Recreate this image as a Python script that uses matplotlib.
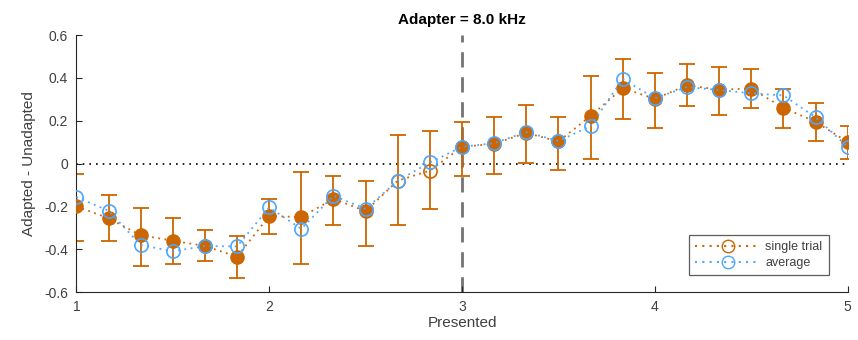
import numpy as np
import matplotlib.pyplot as plt

plt.rcParams['font.family'] = ['Liberation Sans', 'DejaVu Sans']

x = np.linspace(1, 5, 25)
single = [-0.20, -0.255, -0.335, -0.36, -0.385, -0.435, -0.245, -0.25, -0.165, -0.222,
          -0.08, -0.033, 0.078, 0.092, 0.143, 0.103, 0.222, 0.352, 0.302, 0.365,
          0.345, 0.35, 0.26, 0.195, 0.10]
average = [-0.157, -0.22, -0.38, -0.41, -0.385, -0.387, -0.205, -0.305, -0.15, -0.212,
           -0.08, 0.005, 0.078, 0.095, 0.147, 0.105, 0.175, 0.395, 0.305, 0.357,
           0.343, 0.328, 0.318, 0.216, 0.078]
err_top = [-0.048, -0.146, -0.207, -0.255, -0.312, -0.339, -0.165, -0.04, -0.056, -0.083,
           0.134, 0.154, 0.193, 0.216, 0.275, 0.216, 0.41, 0.488, 0.423, 0.465,
           0.449, 0.441, 0.348, 0.283, 0.177]
err_bot = [-0.36, -0.36, -0.477, -0.468, -0.457, -0.535, -0.328, -0.471, -0.286, -0.387,
           -0.286, -0.211, -0.056, -0.048, 0.002, -0.03, 0.022, 0.208, 0.166, 0.267,
           0.227, 0.258, 0.166, 0.103, 0.022]
# orange markers drawn hollow where not significant
hollow = [10, 11]

orange = (0.8, 0.4, 0.0)
blue = (0.3, 0.65, 1.0)
dots = (0, (1, 2.5))

single = np.array(single)
average = np.array(average)
lo = single - np.array(err_bot)
hi = np.array(err_top) - single

fig, ax = plt.subplots(figsize=(8.58, 3.4), dpi=100)
fig.subplots_adjust(left=0.089, right=0.988, top=0.897, bottom=0.141)

ax.axhline(0, color='black', linestyle=(0, (1, 3)), linewidth=1.2, zorder=1)
ax.axvline(3, color='0.45', linestyle=(0, (5.5, 3.5)), linewidth=2.0, zorder=1)

ax.errorbar(x, single, yerr=[lo, hi], fmt='none', ecolor=orange, elinewidth=1.3,
            capsize=6, capthick=1.3, zorder=2)
ax.plot(x, single, linestyle=dots, color=orange, linewidth=1.3, zorder=3)
filled = [i for i in range(len(x)) if i not in hollow]
ax.plot(x[filled], single[filled], 'o', color=orange, markersize=9.5,
        markeredgecolor=orange, zorder=4)
ax.plot(x[hollow], single[hollow], 'o', markerfacecolor='none', markersize=9.5,
        markeredgecolor=orange, markeredgewidth=1.2, zorder=4)
ax.plot(x, average, linestyle=dots, color=blue, linewidth=1.3, zorder=5)
ax.plot(x, average, 'o', markerfacecolor='none', markeredgecolor=blue,
        markersize=9.5, markeredgewidth=1.2, zorder=6)

h1, = ax.plot([], [], linestyle=dots, color=orange, marker='o', markerfacecolor='none',
              markeredgecolor=orange, markersize=9, label='single trial')
h2, = ax.plot([], [], linestyle=dots, color=blue, marker='o', markerfacecolor='none',
              markeredgecolor=blue, markersize=9, label='average')
leg = ax.legend(handles=[h1, h2], loc='lower right', bbox_to_anchor=(0.98, 0.05),
                fontsize=9, frameon=True, fancybox=False, borderpad=0.5,
                handlelength=5.2, handletextpad=0.4, labelspacing=0.3,
                borderaxespad=0.3)
leg.get_frame().set_edgecolor('0.2')
leg.get_frame().set_linewidth(0.9)
for t in leg.get_texts():
    t.set_color('0.25')

ax.set_xlim(1, 5)
ax.set_ylim(-0.6, 0.6)
ax.set_xticks([1, 2, 3, 4, 5])
ax.set_yticks([-0.6, -0.4, -0.2, 0, 0.2, 0.4, 0.6])
ax.set_yticklabels(['-0.6', '-0.4', '-0.2', '0', '0.2', '0.4', '0.6'])
ax.spines['top'].set_visible(False)
ax.spines['right'].set_visible(False)
for s in ['left', 'bottom']:
    ax.spines[s].set_color('0.15')
ax.tick_params(direction='in', length=4, labelsize=10, colors='0.15',
               labelcolor='0.25', pad=6)
ax.set_xlabel('Presented', fontsize=11, color='0.25', labelpad=1)
ax.set_ylabel('Adapted - Unadapted', fontsize=11, color='0.25', labelpad=6)
ax.set_title('Adapter = 8.0 kHz', fontsize=11, fontweight='bold', pad=8)

fig.savefig('out.png', dpi=100)
